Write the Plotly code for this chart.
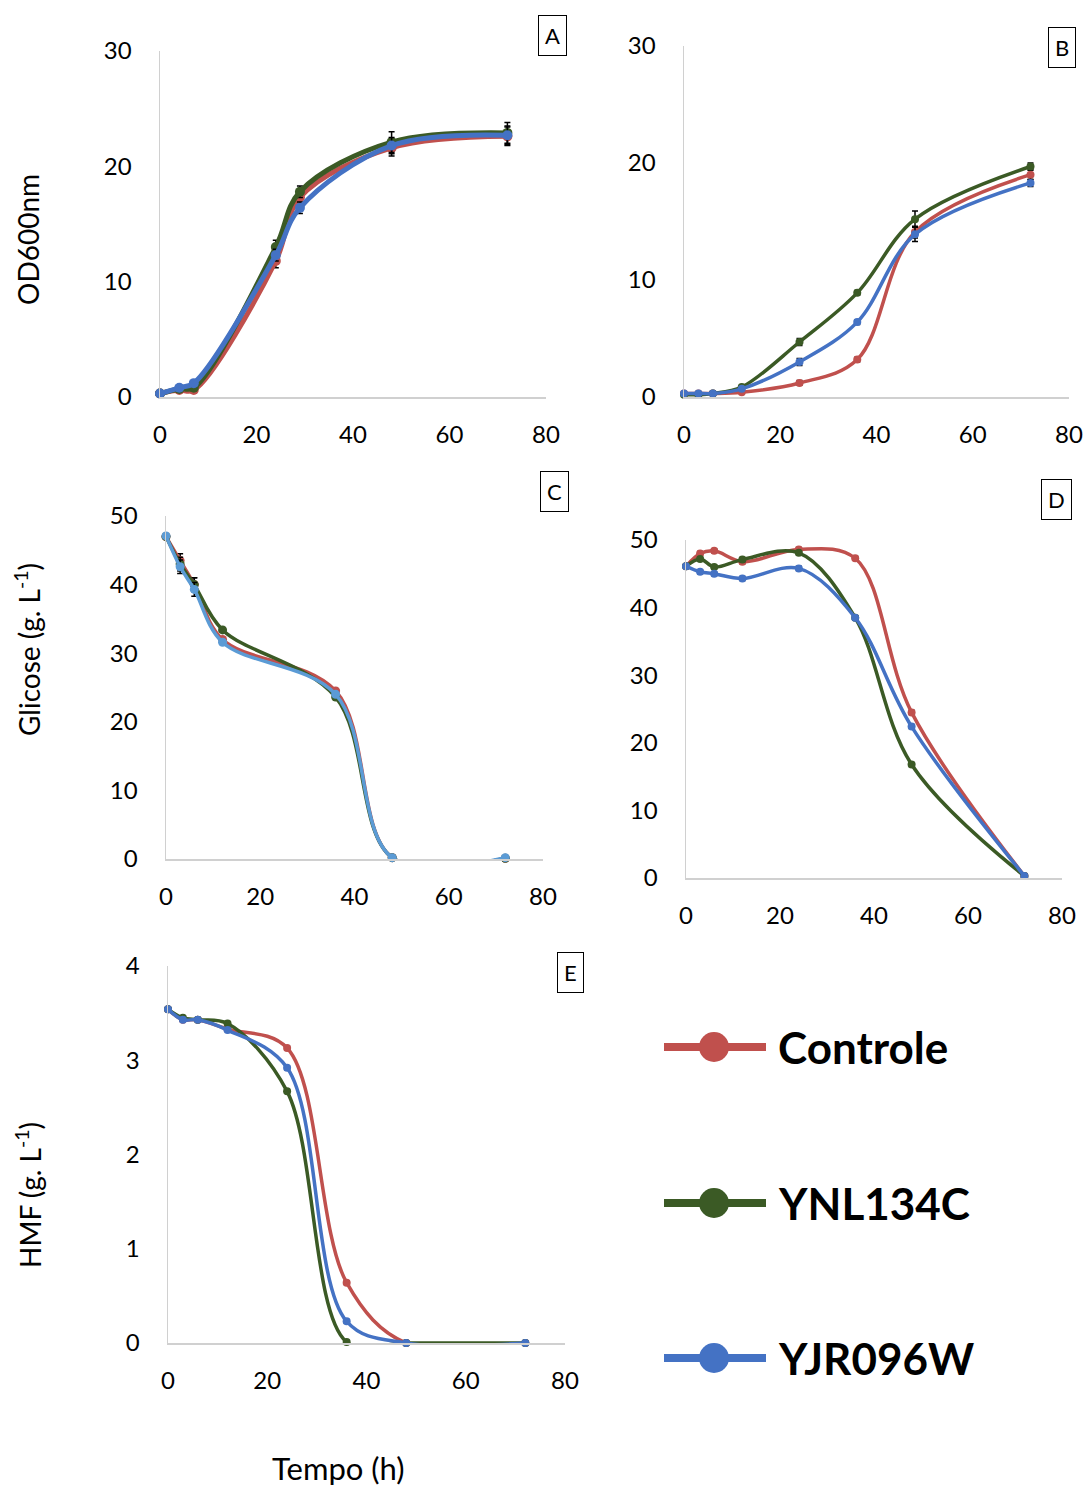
import plotly.graph_objects as go

# ---------------- data ----------------
series_names = ["Controle", "YNL134C", "YJR096W"]
colors = ["#C0504D", "#3B5A25", "#4472C4"]
blue_c = "#5B9BD5"

# Panel A - OD600nm (first condition)
tA = [0, 4, 7, 24, 29, 48, 72]
A_ctrl = [0.3, 0.6, 0.6, 11.8, 17.3, 21.6, 22.6]
A_ynl = [0.3, 0.7, 0.8, 13.0, 17.8, 22.1, 22.9]
A_yjr = [0.3, 0.8, 1.2, 12.3, 16.4, 21.8, 22.7]
A_err_ctrl = [0.1, 0.1, 0.2, 0.6, 0.5, 0.7, 0.8]
A_err_ynl = [0.1, 0.1, 0.2, 0.6, 0.5, 0.9, 0.9]
A_err_yjr = [0.1, 0.1, 0.2, 0.5, 0.5, 0.7, 0.8]

# Panel B - OD600nm (second condition)
tB = [0, 3, 6, 12, 24, 36, 48, 72]
B_ctrl = [0.3, 0.3, 0.3, 0.4, 1.2, 3.2, 14.1, 19.0]
B_ynl = [0.2, 0.2, 0.3, 0.85, 4.7, 8.9, 15.2, 19.7]
B_yjr = [0.3, 0.3, 0.3, 0.7, 3.0, 6.4, 13.9, 18.3]
B_err_ctrl = [0.1, 0.1, 0.1, 0.1, 0.2, 0.2, 0.5, 0.4]
B_err_ynl = [0.1, 0.1, 0.1, 0.1, 0.3, 0.2, 0.7, 0.3]
B_err_yjr = [0.1, 0.1, 0.1, 0.1, 0.3, 0.2, 0.6, 0.3]

# Panel C - Glicose (first condition)
tC = [0, 3, 6, 12, 36, 48, 72]
C_ctrl = [47.0, 43.5, 40.0, 32.0, 24.5, 0.2, 0.1]
C_ynl = [47.0, 43.0, 40.0, 33.4, 23.6, 0.2, 0.1]
C_yjr = [47.1, 42.6, 39.3, 31.6, 24.0, 0.2, 0.2]
C_err = [0.3, 1.0, 1.0, 0.3, 0.3, 0.1, 0.1]

# Panel D - Glicose (second condition)
tD = [0, 3, 6, 12, 24, 36, 48, 72]
D_ctrl = [46.1, 48.0, 48.4, 46.8, 48.6, 47.3, 24.5, 0.3]
D_ynl = [46.1, 47.2, 46.0, 47.1, 48.1, 38.5, 16.8, 0.3]
D_yjr = [46.1, 45.3, 45.0, 44.3, 45.8, 38.5, 22.4, 0.3]
D_err = [0.2, 0.3, 0.3, 0.3, 0.3, 0.3, 0.3, 0.2]

# Panel E - HMF
tE = [0, 3, 6, 12, 24, 36, 48, 72]
E_ctrl = [3.54, 3.43, 3.43, 3.33, 3.13, 0.64, 0.0, 0.0]
E_ynl = [3.54, 3.45, 3.43, 3.39, 2.67, 0.01, 0.0, 0.0]
E_yjr = [3.54, 3.43, 3.43, 3.32, 2.92, 0.23, 0.0, 0.0]
E_err = [0.01, 0.01, 0.01, 0.01, 0.02, 0.02, 0.0, 0.0]

x_ticks = [0, 20, 40, 60, 80]

FONT = "Lato"
fig = go.Figure()


def add_series(t, ys, errs, ax, cols, lw, ms):
    for name, y, e, c in zip(series_names, ys, errs, cols):
        fig.add_trace(go.Scatter(
            x=t, y=y, name=name, mode="lines+markers",
            line=dict(color=c, width=lw, shape="spline", smoothing=1.0),
            marker=dict(color=c, size=ms),
            error_y=dict(type="data", array=e, color="black", thickness=1.5, width=3),
            xaxis="x" + ax, yaxis="y" + ax, showlegend=False, cliponaxis=False,
        ))


add_series(tA, [A_ctrl, A_ynl, A_yjr], [A_err_ctrl, A_err_ynl, A_err_yjr], "", colors, 5, 10)
add_series(tB, [B_ctrl, B_ynl, B_yjr], [B_err_ctrl, B_err_ynl, B_err_yjr], "2", colors, 3.5, 8)
add_series(tC, [C_ctrl, C_ynl, C_yjr], [C_err, C_err, C_err], "3",
           [colors[0], colors[1], blue_c], 3.5, 9)
add_series(tD, [D_ctrl, D_ynl, D_yjr], [D_err, D_err, D_err], "4", colors, 3.5, 8)
add_series(tE, [E_ctrl, E_ynl, E_yjr], [E_err, E_err, E_err], "5", colors, 3.5, 8)

W, H = 1088, 1488


def px(x):
    return x / W


def py(y):
    return 1 - y / H


base_axis = dict(showgrid=False, zeroline=False, showline=True, linecolor="#D0D0D0",
                 linewidth=1.5, ticks="", tickfont=dict(family=FONT, size=24, color="black"),
                 automargin=False, ticklabeloverflow="allow")

panels = {
    "": dict(x=(160, 546), y=(397, 51), yr=[0, 30], dt=10),
    "2": dict(x=(684, 1069), y=(397, 46), yr=[0, 30], dt=10),
    "3": dict(x=(166, 543), y=(859, 516), yr=[0, 50], dt=10),
    "4": dict(x=(686, 1062), y=(878, 540), yr=[0, 50], dt=10),
    "5": dict(x=(168, 565), y=(1343, 966), yr=[0, 4], dt=1),
}

layout_axes = {}
for k, p in panels.items():
    layout_axes["xaxis" + k] = dict(base_axis, domain=[px(p["x"][0]), px(p["x"][1])],
                                    range=[0, 80], tickvals=x_ticks, anchor="y" + k,
                                    ticklabelstandoff=16)
    layout_axes["yaxis" + k] = dict(base_axis, domain=[py(p["y"][0]), py(p["y"][1])],
                                    range=p["yr"], dtick=p["dt"], tick0=0, anchor="x" + k,
                                    ticklabelstandoff=22)

annotations = []
# panel labels
for lab, (cx, cy) in zip(["A", "B", "C", "D", "E"],
                         [(552, 36), (1062, 48), (554, 492), (1056, 500), (570, 972)]):
    annotations.append(dict(text=lab, x=px(cx), y=py(cy), xref="paper", yref="paper",
                            xanchor="center", yanchor="middle",
                            showarrow=False, font=dict(family=FONT, size=22, color="black"),
                            bordercolor="black", borderwidth=1, borderpad=6, bgcolor="white"))

# axis titles
for txt, cx, cy, ang, fs in [("OD600nm", 28, 240, -90, 28),
                             ("Glicose (g. L<sup>-1</sup>)", 28, 650, -90, 28),
                             ("HMF (g. L<sup>-1</sup>)", 28, 1195, -90, 28),
                             ("Tempo (h)", 338, 1468, 0, 31)]:
    annotations.append(dict(text=txt, x=px(cx), y=py(cy), xref="paper", yref="paper",
                            xanchor="center", yanchor="middle",
                            showarrow=False, textangle=ang,
                            font=dict(family=FONT, size=fs, color="black")))

# legend (drawn as key shapes + text)
shapes = []
leg_y = [1047, 1203, 1358]
for name, c, ly in zip(series_names, colors, leg_y):
    shapes.append(dict(type="line", xref="paper", yref="paper", x0=px(664), x1=px(766),
                       y0=py(ly), y1=py(ly), line=dict(color=c, width=8)))
    shapes.append(dict(type="circle", xref="paper", yref="paper",
                       x0=px(714 - 15), x1=px(714 + 15), y0=py(ly + 15), y1=py(ly - 15),
                       fillcolor=c, line=dict(color=c, width=0)))
    annotations.append(dict(text="<b>" + name + "</b>", x=px(776), y=py(ly), xref="paper",
                            yref="paper", xanchor="left", yanchor="middle", showarrow=False,
                            font=dict(family=FONT, size=44, color="black")))

fig.update_layout(
    template="none",
    width=W, height=H, margin=dict(l=0, r=0, t=0, b=0, pad=0, autoexpand=False),
    paper_bgcolor="white", plot_bgcolor="white",
    annotations=annotations, shapes=shapes, showlegend=False,
    hovermode=False,
    **layout_axes,
)

# remove the default page margin so the figure fills the window exactly
fig.write_html("out.html", config={"displayModeBar": False, "staticPlot": True},
               post_script="document.body.style.margin='0';document.body.style.overflow='hidden';")
